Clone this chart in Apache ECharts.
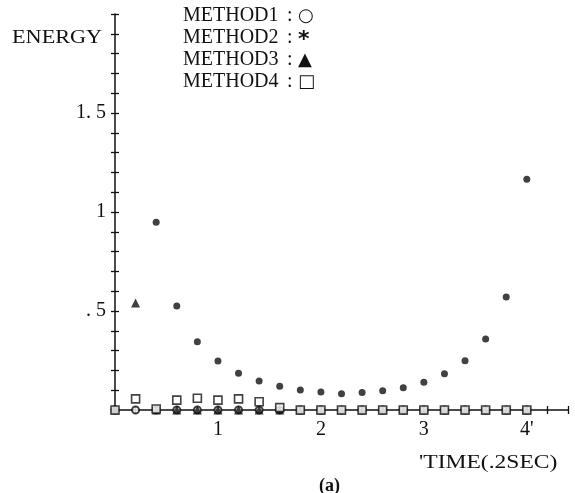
<!DOCTYPE html>
<html>
<head>
<meta charset="utf-8">
<script src="https://cdn.jsdelivr.net/npm/echarts@6/dist/echarts.min.js"></script>
<style>
  html, body { margin: 0; padding: 0; background: #fff; }
  #chart { width: 575px; height: 493px; }
</style>
</head>
<body>
<div id="chart"></div>
<script>
// Sample times, in units of 0.2 s
const times = [0, 0.2, 0.4, 0.6, 0.8, 1.0, 1.2, 1.4, 1.6, 1.8, 2.0,
               2.2, 2.4, 2.6, 2.8, 3.0, 3.2, 3.4, 3.6, 3.8, 4.0];

// Energy per method at each sample time
const method1 = [0, 0, 0, 0, 0, 0, 0, 0, 0, 0, 0,
                 0, 0, 0, 0, 0, 0, 0, 0, 0, 0];
const method2 = [0, null, 0.948, 0.525, 0.345, 0.247, 0.185, 0.146, 0.12, 0.101, 0.091,
                 0.082, 0.089, 0.097, 0.113, 0.14, 0.183, 0.249, 0.359, 0.571, 1.165];
const method3 = [0, 0.54, 0, 0, 0, 0, 0, 0, 0, 0, 0,
                 0, 0, 0, 0, 0, 0, 0, 0, 0, 0];
const method4 = [0, 0.056, 0.005, 0.05, 0.059, 0.05, 0.056, 0.042, 0.012, 0, 0,
                 0, 0, 0, 0, 0, 0, 0, 0, 0, 0];

const methodNames = ['METHOD1', 'METHOD2', 'METHOD3', 'METHOD4'];
const legendMarks = ['\u25CB', '*', '\u25B2', '\u25A1'];

// Tick labels
const xTickLabels = { 1: '1', 2: '2', 3: '3', 4: "4'" };
const yTickLabels = { 5: '. 5', 10: '1', 15: '1. 5' };

const yAxisTitle = 'ENERGY';
const xAxisTitle = "'TIME(.2SEC)";
const panelTag = '(a)';

const serif = '"Liberation Serif", "DejaVu Serif", serif';
const ink = '#111';
const TICK_HALF = 4;

function pairs(ys) {
  const out = [];
  times.forEach((t, i) => { if (ys[i] !== null) out.push([t, ys[i]]); });
  return out;
}

const chart = echarts.init(document.getElementById('chart'), null, { renderer: 'canvas' });

// grid 0: axis lines, labels and data
// grid 1: shifted right by half a tick, carries the y ticks
// grid 2: shifted up by half a tick, carries the x ticks
// so each tick is centred on (crosses) its axis line.
const L = 115, R = 7, T = 14, B = 83;
const grids = [
  { left: L, right: R, top: T, bottom: B },
  { left: L + TICK_HALF, right: R, top: T, bottom: B },
  { left: L, right: R, top: T, bottom: B + TICK_HALF }
];

const X_MIN = 0, X_MAX = 4.4, X_STEP = 0.2;
const Y_MIN = 0, Y_MAX = 2.0, Y_STEP = 0.1;

function xAxisDef(gridIndex) {
  const main = gridIndex === 0;
  return {
    gridIndex: gridIndex, show: gridIndex !== 1,
    type: 'value', min: X_MIN, max: X_MAX, interval: X_STEP, position: 'bottom',
    axisLine: { show: main, onZero: false, lineStyle: { color: ink, width: 1.5 } },
    axisTick: { show: !main, inside: false, length: TICK_HALF * 2, lineStyle: { color: ink, width: 1.3 } },
    axisLabel: {
      show: main, margin: 10, color: ink, fontFamily: serif, fontSize: 20,
      formatter: v => {
        const r = Math.round(v);
        return Math.abs(v - r) < 1e-6 && xTickLabels[r] ? xTickLabels[r] : '';
      }
    },
    splitLine: { show: false }
  };
}

function yAxisDef(gridIndex) {
  const main = gridIndex === 0;
  return {
    gridIndex: gridIndex, show: gridIndex !== 2,
    type: 'value', min: Y_MIN, max: Y_MAX, interval: Y_STEP, position: 'left',
    axisLine: { show: main, onZero: false, lineStyle: { color: ink, width: 1.5 } },
    axisTick: { show: !main, inside: false, length: TICK_HALF * 2, lineStyle: { color: ink, width: 1.3 } },
    axisLabel: {
      show: main, margin: 9, color: ink, fontFamily: serif, fontSize: 20,
      formatter: v => {
        const k = Math.round(v * 10);
        return Math.abs(v * 10 - k) < 1e-6 && yTickLabels[k] ? yTickLabels[k] : '';
      }
    },
    splitLine: { show: false }
  };
}

const legendGraphics = [];
methodNames.forEach((name, i) => {
  const y = 17 + i * 22;
  legendGraphics.push({
    type: 'text', left: 183, top: y - 11,
    style: { text: name, font: '20px ' + serif, fill: ink }
  });
  legendGraphics.push({
    type: 'text', left: 287, top: y - 11,
    style: { text: ':', font: '20px ' + serif, fill: ink }
  });
  legendGraphics.push({
    type: 'text', left: 298, top: y - 10,
    style: {
      text: legendMarks[i],
      font: (i === 1 ? 'bold 22px ' : '18px ') + '"DejaVu Sans", sans-serif',
      fill: ink
    }
  });
});

function hiddenSeries(idx) {
  return {
    name: 'ticks-' + idx, type: 'scatter', xAxisIndex: idx, yAxisIndex: idx,
    data: pairs(method1), symbolSize: 0, silent: true,
    itemStyle: { opacity: 0 }, z: 0
  };
}

chart.setOption({
  animation: false,
  backgroundColor: '#fff',
  grid: grids,
  xAxis: [xAxisDef(0), xAxisDef(1), xAxisDef(2)],
  yAxis: [yAxisDef(0), yAxisDef(1), yAxisDef(2)],
  series: [
    {
      name: methodNames[0], type: 'scatter', data: pairs(method1),
      symbol: 'circle', symbolSize: 7,
      itemStyle: { color: '#fff', borderColor: ink, borderWidth: 2 }, z: 3
    },
    {
      name: methodNames[1], type: 'scatter', data: pairs(method2),
      symbol: 'circle', symbolSize: 7,
      itemStyle: { color: ink }, z: 4
    },
    {
      name: methodNames[2], type: 'scatter', data: pairs(method3),
      symbol: 'triangle', symbolSize: 9,
      itemStyle: { color: ink }, z: 5
    },
    {
      name: methodNames[3], type: 'scatter', data: pairs(method4),
      symbol: 'rect', symbolSize: 8,
      itemStyle: { color: '#fff', borderColor: ink, borderWidth: 1.6 }, z: 6
    },
    hiddenSeries(1),
    hiddenSeries(2)
  ],
  graphic: [
    {
      type: 'text', left: 12, top: 29, scaleX: 1.17,
      style: { text: yAxisTitle, font: '19px ' + serif, fill: ink }
    },
    {
      type: 'text', left: 419, top: 454, scaleX: 1.24,
      style: { text: xAxisTitle, font: '19px ' + serif, fill: ink }
    },
    {
      type: 'text', left: 319, top: 477,
      style: { text: panelTag, font: 'bold 18px ' + serif, fill: ink }
    }
  ].concat(legendGraphics)
});
</script>
</body>
</html>
